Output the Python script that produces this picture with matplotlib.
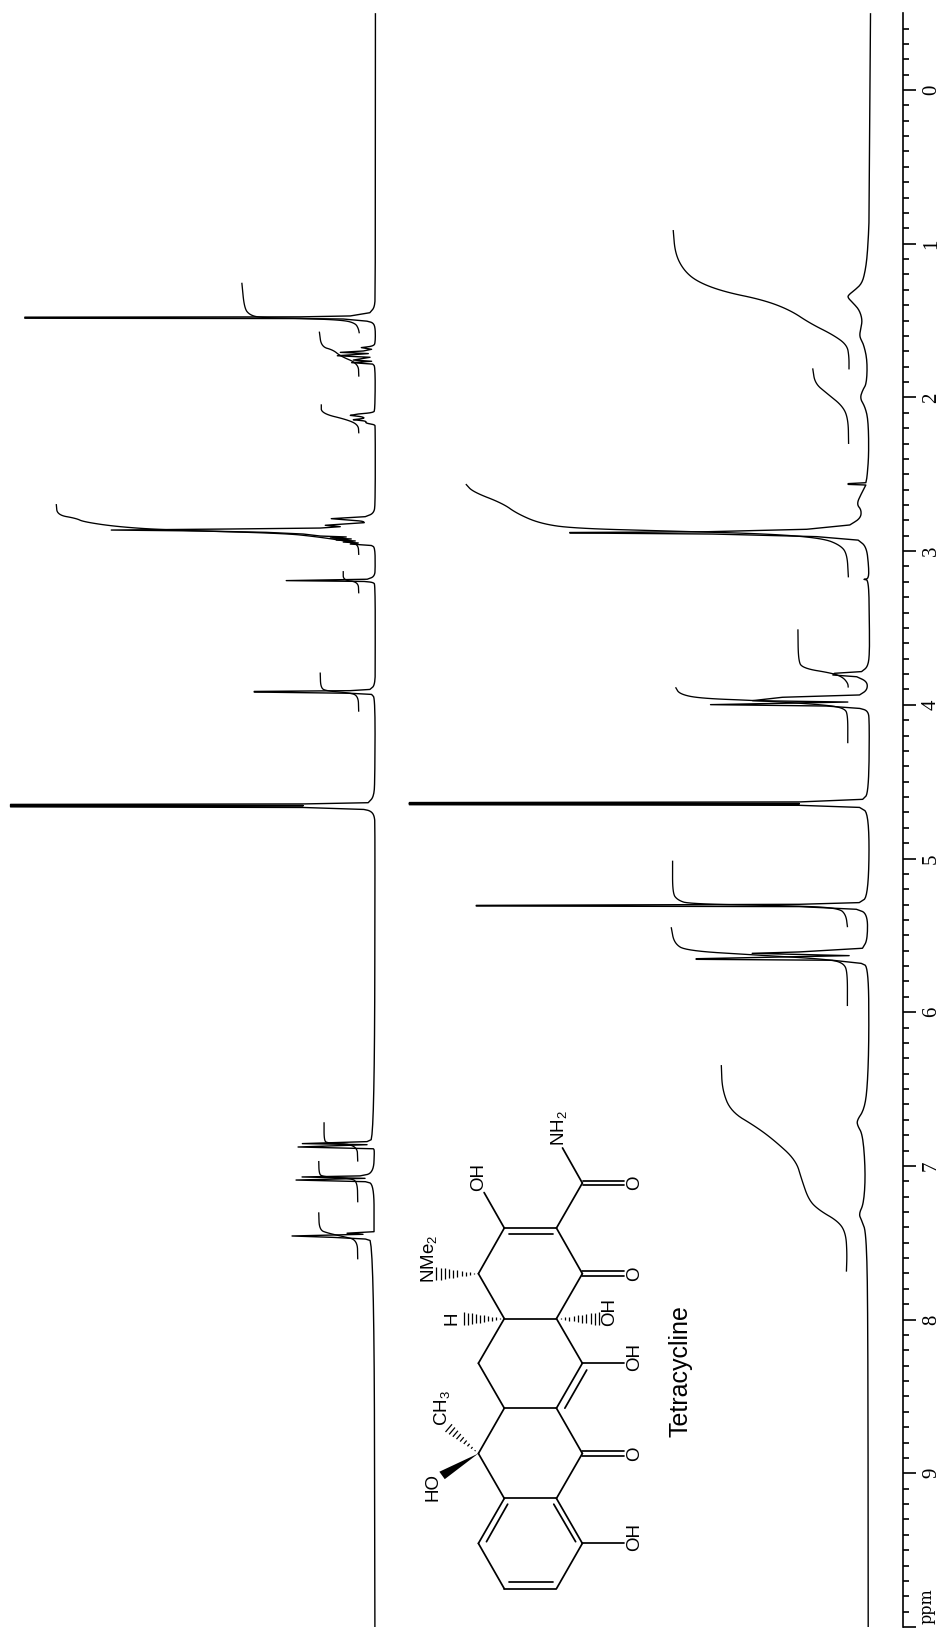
import numpy as np
import matplotlib
matplotlib.use("Agg")
import matplotlib.pyplot as plt
from matplotlib.patches import Polygon

plt.rcParams['mathtext.default'] = 'regular'
plt.rcParams['font.family'] = ['Liberation Sans', 'DejaVu Sans']

# ---------- data: (ppm, signal height) ----------
upper_ppm = [-0.5, 0.7, 1.04, 1.30, 1.41, 1.449, 1.470, 1.476, 1.478, 1.485, 1.487, 1.490, 1.503, 1.514, 1.551,
             1.637, 1.666, 1.676, 1.687, 1.698, 1.707, 1.715, 1.729, 1.739, 1.757, 1.765, 1.774, 1.783, 1.80,
             2.082, 2.099, 2.108, 2.117, 2.125, 2.136, 2.145, 2.154, 2.167, 2.177, 2.19,
             2.689, 2.754, 2.776, 2.789, 2.80, 2.806, 2.815, 2.832, 2.841, 2.85, 2.856, 2.863, 2.869, 2.878, 2.889,
             2.902, 2.908, 2.915, 2.921, 2.928, 2.934, 2.941, 2.947, 2.954, 2.963, 2.976,
             3.10, 3.165, 3.183, 3.192, 3.197, 3.203, 3.22,
             3.71, 3.871, 3.90, 3.908, 3.913, 3.917, 3.925, 3.932, 3.958,
             4.489, 4.598, 4.637, 4.645, 4.648, 4.656, 4.656, 4.656, 4.664, 4.668, 4.68, 4.689, 4.717, 4.78,
             6.82, 6.842, 6.855, 6.862, 6.877, 6.888, 6.90,
             7.048, 7.065, 7.072, 7.081, 7.092, 7.102, 7.118,
             7.428, 7.438, 7.445, 7.456, 7.465, 7.475, 7.493, 10.0]
upper_h = [0, 0, 0, 0.3, 0.3, 5.5, 25, 75, 350.5, 350.5, 75, 32, 9, 2, 0,
           0, 1.3, 14, 3.7, 12, 35, 7, 38, 5.3, 22, 3.7, 23.7, 2.7, 0,
           0.3, 2, 17, 25, 13.7, 10, 22, 8.7, 10, 0.7, 0,
           0, 1.3, 10, 44, 22, 12, 11, 50, 35, 55, 142, 264, 175, 109, 72,
           55, 29, 45, 24, 39, 20, 32, 17, 25, 4, 0.3,
           0, 0.5, 8, 89, 12, 2, 0,
           0, 0, 5.3, 25, 121, 121, 25, 3.7, 0,
           0.3, 1.3, 7, 72, 364.6, 364.6, 72, 364.6, 364.6, 72, 12, 5, 1, 0,
           0.7, 8, 72.7, 8, 77, 1.7, 0.5,
           1.7, 15, 73, 10, 79, 10, 1,
           1, 28, 12, 83, 42, 10, 1, 0]

lower_ppm = [-0.5, 0.67, 0.846, 1.063, 1.171, 1.257, 1.30, 1.33, 1.349, 1.388, 1.432, 1.497, 1.551, 1.605, 1.648,
             1.757, 1.909, 1.952, 2.006, 2.06, 2.147, 2.364, 2.516, 2.555, 2.561, 2.566, 2.57, 2.624, 2.694, 2.733, 2.787,
             2.83, 2.858, 2.874, 2.879, 2.882, 2.889, 2.906, 2.928, 2.971, 3.10, 3.178, 3.184, 3.19,
             3.448, 3.665, 3.752, 3.784, 3.795, 3.806, 3.817, 3.849, 3.904, 3.936, 3.951, 3.973, 3.982, 3.999,
             4.008, 4.023, 4.038, 4.099,
             4.576, 4.615, 4.632, 4.636, 4.643, 4.643, 4.643, 4.65, 4.654, 4.667, 4.706,
             5.248, 5.287, 5.298, 5.305, 5.309, 5.313, 5.33, 5.357,
             5.53, 5.584, 5.608, 5.617, 5.632, 5.652, 5.656, 5.662, 5.682, 5.704,
             6.181, 6.506, 6.636, 6.701, 6.734, 6.799, 7.048, 7.244, 7.313, 7.352, 7.439, 8.0, 10.0]
lower_h = [0, 1, 1, 2.7, 4.7, 8, 15, 21, 22.7, 16.7, 10.7, 7.7, 9.3, 10.7, 6.7,
           2.7, 3.3, 7.3, 10, 5, 1.7, 1, 2.7, 4, 21.7, 21.7, 4, 8.3, 13.3, 8.3, 9.3,
           20, 63, 163, 300, 300, 157, 53, 11.7, 3.3, 1, 1, 5.7, 1,
           0.3, 0, 1.7, 8, 35, 36.7, 13, 2.3, 2.3, 10, 87, 117, 21.7, 159,
           43, 10, 1.7, 0,
           0.7, 6.7, 70, 460, 460, 70, 460, 460, 70, 10, 0,
           0.7, 10, 70, 393, 393, 70, 13, 1.7,
           1.7, 6.7, 70, 117, 20, 173, 173, 36.7, 8, 0.7,
           0, 1.7, 5, 11.7, 11.7, 6, 3.3, 5, 10, 7.3, 2.3, 0.7, 0]

upper_integral_1 = ([1.254, 1.42, 1.464, 1.481, 1.486, 1.497, 1.518, 1.551, 1.583], [133.5, 131, 125.5, 115, 75.5, 32, 20, 17, 16])
upper_integral_2 = ([1.572, 1.67, 1.692, 1.731, 1.78, 1.865], [56, 54, 42, 35, 17, 16.5])
upper_integral_3 = ([2.045, 2.104, 2.147, 2.18, 2.234], [54, 54, 27, 17, 16.5])
upper_integral_4 = ([2.694, 2.765, 2.787, 2.809, 2.841, 2.863, 2.884, 2.906, 2.939, 2.96, 3.025], [319, 318, 299, 292, 259, 209, 92, 59, 25, 17, 16.5])
upper_integral_5 = ([3.13, 3.19, 3.2, 3.275], [32, 32, 17, 16.5])
upper_integral_6 = ([3.79, 3.893, 3.91, 3.921, 3.937, 4.045], [55, 54.5, 48, 28, 17, 16.5])
upper_integral_7 = ([6.716, 6.831, 6.853, 6.86, 6.972], [51, 51, 48, 18, 17.3])
upper_integral_8 = ([6.968, 7.048, 7.07, 7.081, 7.102, 7.237], [56.3, 56, 53, 25, 17.7, 17.3])
upper_integral_9 = ([7.302, 7.417, 7.438, 7.46, 7.482, 7.608], [56.3, 55.7, 46.7, 31.7, 17.7, 17.3])

lower_integral_1 = ([0.911, 1.063, 1.171, 1.247, 1.312, 1.366, 1.432, 1.518, 1.594, 1.659, 1.735, 1.818], [197, 195, 186.7, 173, 146.7, 106.7, 80, 60, 36.7, 23, 21, 21])
lower_integral_2 = ([1.811, 1.909, 1.974, 2.06, 2.147, 2.303], [57.3, 55, 43, 26.7, 21.7, 21.3])
lower_integral_3 = ([2.564, 2.614, 2.69, 2.755, 2.82, 2.852, 2.87, 2.889, 2.917, 2.96, 3.015, 3.171], [404, 397, 367, 353, 330, 297, 197, 97, 47, 30, 22.7, 21.3])
lower_integral_4 = ([3.509, 3.708, 3.762, 3.795, 3.821, 3.86, 3.888], [71.7, 71.3, 67.3, 36.7, 26.7, 21.7, 21.3])
lower_integral_5 = ([3.886, 3.93, 3.958, 3.973, 4.001, 4.023, 4.066, 4.25], [194, 190, 170, 110, 43, 25, 21.7, 21.7])
lower_integral_6 = ([5.014, 5.226, 5.27, 5.296, 5.309, 5.324, 5.367, 5.447], [196.7, 196.7, 191.7, 180, 67, 30, 23.3, 21.7])
lower_integral_7 = ([5.447, 5.552, 5.6, 5.628, 5.656, 5.682, 5.747, 5.96], [198, 195, 183, 113, 40, 25, 21.7, 21.7])
lower_integral_8 = ([6.344, 6.506, 6.647, 6.745, 6.832, 6.962, 7.092, 7.222, 7.287, 7.363, 7.439, 7.569, 7.688], [147.7, 146.7, 138, 113, 95, 73, 67, 60, 50, 30, 23, 21.7, 22.3])

major_ticks = list(range(0, 11))
major_labels = ['0', '1', '2', '3', '4', '5', '6', '7', '8', '9', '']
axis_unit = 'ppm'
compound_name = 'Tetracycline'

# ---------- figure ----------
W, H = 938, 1629
fig = plt.figure(figsize=(W / 100, H / 100), dpi=100, facecolor='white')
ax = fig.add_axes([0, 0, 1, 1])
PX_PER_PPM = 153.7
PPM0_Y = 90.0
ax.set_xlim(0, W)
ax.set_ylim((H - PPM0_Y) / PX_PER_PPM, -PPM0_Y / PX_PER_PPM)

UPPER_BASE, LOWER_BASE = 375.4, 870.4
UPPER_TILT, LOWER_TILT = 0.05, 0.22
LW_TRACE, LW_INT = 1.0, 0.95


def corner_cut(px, py, rounds=3):
    """Round a hand-read polyline's corners the way a pen trace looks; the ends stay put."""
    for _ in range(rounds):
        if len(px) < 3:
            break
        qx, qy = [px[0]], [py[0]]
        for i in range(len(px) - 1):
            qx += [0.75 * px[i] + 0.25 * px[i + 1], 0.25 * px[i] + 0.75 * px[i + 1]]
            qy += [0.75 * py[i] + 0.25 * py[i + 1], 0.25 * py[i] + 0.75 * py[i + 1]]
        qx.append(px[-1])
        qy.append(py[-1])
        px, py = qx, qy
    return px, py


def draw(ppm, h, base, tilt, lw, keep_spikes):
    p = np.asarray(ppm, float)
    hh = np.asarray(h, float)
    x = list(base - tilt * p - hh)
    y = list(p * PX_PER_PPM)
    cuts = [0]
    if keep_spikes:
        for i in range(1, len(x) - 1):
            a = (hh[i] - hh[i - 1]) / max(y[i] - y[i - 1], 0.2)
            b = (hh[i] - hh[i + 1]) / max(y[i + 1] - y[i], 0.2)
            if (abs(a) > 3 and abs(b) > 3) or abs(hh[i] - hh[i - 1]) > 15 or abs(hh[i] - hh[i + 1]) > 15:
                cuts.append(i)
    cuts.append(len(x) - 1)
    xs, ys = [], []
    for s, e in zip(cuts[:-1], cuts[1:]):
        sx, sy = corner_cut(x[s:e + 1], y[s:e + 1])
        xs += sx
        ys += sy
    ax.plot(xs, np.array(ys) / PX_PER_PPM, color='black', lw=lw,
            solid_joinstyle='round', solid_capstyle='butt')


draw(upper_ppm, upper_h, UPPER_BASE, UPPER_TILT, LW_TRACE, True)
draw(lower_ppm, lower_h, LOWER_BASE, LOWER_TILT, LW_TRACE, True)
for integ in (upper_integral_1, upper_integral_2, upper_integral_3, upper_integral_4, upper_integral_5,
              upper_integral_6, upper_integral_7, upper_integral_8, upper_integral_9):
    draw(integ[0], integ[1], UPPER_BASE, UPPER_TILT, LW_INT, False)
for integ in (lower_integral_1, lower_integral_2, lower_integral_3, lower_integral_4,
              lower_integral_5, lower_integral_6, lower_integral_7, lower_integral_8):
    draw(integ[0], integ[1], LOWER_BASE, LOWER_TILT, LW_INT, False)

# ppm ruler: the real y axis
for s in ('top', 'bottom', 'left'):
    ax.spines[s].set_visible(False)
ax.spines['right'].set_position(('data', 902.5))
ax.spines['right'].set_bounds(-0.5, 10.0)
ax.spines['right'].set_linewidth(1.2)
ax.xaxis.set_visible(False)
ax.yaxis.tick_right()
ax.set_yticks(major_ticks)
ax.set_yticklabels(major_labels, rotation=90, va='center', ha='left',
                   family='Liberation Serif', fontsize=15)
ax.set_yticks(np.round(np.arange(-0.4, 10.0, 0.1), 1), minor=True)
ax.tick_params(axis='y', which='major', length=9, width=1.2, direction='out', pad=5)
ax.tick_params(axis='y', which='minor', length=4.5, width=1.2, direction='out')
ax.text(927, 9.865, axis_unit, rotation=90, ha='center', va='center',
        family=['DejaVu Serif'], fontsize=11.5)

# ---------- molecular drawing, in its own axes ----------
mol = fig.add_axes([400 / W, (H - 1636) / H, 323 / W, 536.4 / H])
mol.set_xlim(0, 960)
mol.set_ylim(1587, 0)
mol.axis('off')
mol.patch.set_alpha(0)

atoms = dict(a1=(310, 380), a2=(465, 380), a3=(542, 515), a4=(465, 648), a5=(310, 648), a6=(233, 515),
             b1=(542, 780), b2=(465, 913), b3=(310, 913), b4=(233, 780),
             c1=(233, 1047), c2=(310, 1180), c3=(465, 1180), c4=(542, 1047),
             d1=(542, 1313), d2=(465, 1447), d3=(310, 1447), d4=(233, 1313), am=(542, 247))
bonds = ['a1 a2', 'a2 a3', 'a3 a4', 'a4 a5', 'a5 a6', 'a6 a1', 'a4 b1', 'b1 b2', 'b2 b3', 'b3 b4', 'b4 a5',
         'b2 c4', 'c4 c3', 'c3 c2', 'c2 c1', 'c1 b3', 'c3 d1', 'd1 d2', 'd2 d3', 'd3 d4', 'd4 c2', 'a2 am']
extra_lines = [((325, 398), (455, 398)), ((555, 800), (490, 913)), ((320, 1197), (257, 1308)),
               ((457, 1197), (522, 1308)), ((325, 1428), (455, 1428)),
               ((542, 508), (665, 508)), ((542, 522), (665, 522)),
               ((542, 1040), (665, 1040)), ((542, 1054), (665, 1054)),
               ((545, 240), (665, 240)), ((545, 254), (665, 254)),
               ((542, 247), (483, 143)), ((310, 380), (250, 275)),
               ((542, 780), (665, 780)), ((542, 1313), (665, 1313))]
LWB = 1.25
for b in bonds:
    i, j = b.split()
    mol.plot(*zip(atoms[i], atoms[j]), color='black', lw=LWB, solid_capstyle='round')
for p, q in extra_lines:
    mol.plot(*zip(p, q), color='black', lw=LWB, solid_capstyle='round')


def hashed(p, q, n, maxhalf):
    p, q = np.array(p, float), np.array(q, float)
    d = q - p
    nrm = np.array([-d[1], d[0]]) / np.hypot(*d)
    for k in range(1, n + 1):
        t = k / n
        c = p + d * t
        mol.plot(*zip(c - nrm * maxhalf * t, c + nrm * maxhalf * t), color='black', lw=0.9, solid_capstyle='butt')


hashed((233, 515), (108, 515), 10, 20)
hashed((310, 648), (190, 648), 10, 20)
hashed((465, 648), (592, 648), 10, 20)
hashed((233, 1047), (145, 972), 9, 15)
mol.add_patch(Polygon([(233, 1047), (117, 1101), (133, 1123)], closed=True, color='black', lw=0))

FS = 13.5
labels = [(698, 247, 'O'), (698, 515, 'O'), (698, 1047, 'O'), (698, 762, 'OH'), (698, 1295, 'OH'),
          (235, 230, 'OH'), (622, 628, 'OH'), (155, 648, 'H'), (98, 1145, 'HO'),
          (473, 85, 'NH$_2$'), (85, 470, 'NMe$_2$'), (126, 912, 'CH$_3$')]
for x, y, t in labels:
    mol.text(x, y, t, rotation=90, ha='center', va='center', fontsize=FS)
mol.text(835, 802, compound_name, rotation=90, ha='center', va='center', fontsize=18)

fig.savefig('out.png', dpi=100, facecolor='white')
